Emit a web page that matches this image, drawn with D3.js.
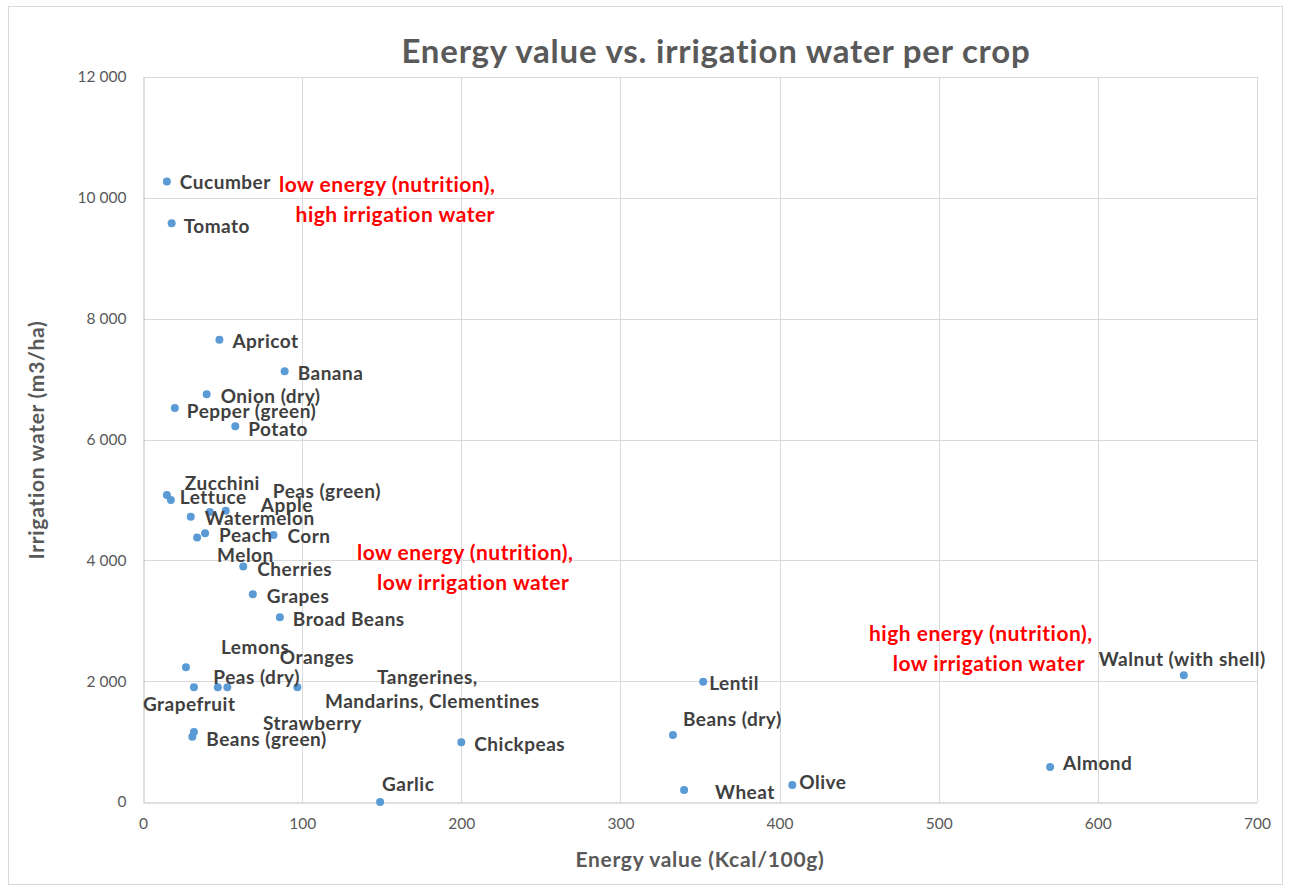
<!DOCTYPE html>
<html>
<head>
<meta charset="utf-8">
<script src="https://cdn.jsdelivr.net/npm/d3@7"></script>
<style>
  body { margin: 0; background: #fff; }
  text { font-family: Lato, "Open Sans", sans-serif; }
</style>
</head>
<body>
<script>
// crops, energy (Kcal/100g), irrigation water (m3/ha)
var crops = ["Cucumber", "Tomato", "Apricot", "Banana", "Onion (dry)", "Pepper (green)", "Potato",
  "Zucchini", "Lettuce", "Watermelon", "Peas (green)", "Apple", "Peach", "Melon", "Corn",
  "Cherries", "Grapes", "Broad Beans", "Lemons", "Grapefruit", "Oranges",
  "Tangerines, Mandarins, Clementines", "Peas (dry)", "Strawberry", "Beans (green)",
  "Garlic", "Chickpeas", "Lentil", "Beans (dry)", "Wheat", "Olive", "Almond", "Walnut (with shell)"];
var energy = [15, 18, 48, 89, 40, 20, 58,
  15, 17.5, 30, 42, 52, 39, 34, 82,
  63, 69, 86, 27, 32, 47,
  53, 97, 32, 31,
  149, 200, 352, 333, 340, 408, 570, 654];
var water = [10270, 9580, 7650, 7130, 6750, 6520, 6220,
  5080, 5000, 4720, 4800, 4820, 4450, 4380, 4420,
  3900, 3440, 3060, 2230, 1900, 1900,
  1900, 1900, 1160, 1080,
  0, 990, 1990, 1110, 200, 280, 580, 2100];

var xTicks = [0, 100, 200, 300, 400, 500, 600, 700];
var yTicks = [0, 2000, 4000, 6000, 8000, 10000, 12000];

var notes = [
  ["low energy (nutrition),", "high irrigation water"],
  ["low energy (nutrition),", "low irrigation water"],
  ["high energy (nutrition),", "low irrigation water"]
];
var noteEnergy = [156, 205, 529];
var noteWater = [10250, 4155, 2815];

// label placement relative to each point (px), like dragged Excel labels
var labelDx = [13, 12, 13, 13, 14, 12, 13,
  18, 9, 14, 63, 35, 14, 20, 14,
  14, 14, 13, 35, -51, 62,
  203, -84, 69, 14,
  2, 13, 6, 10, 31, 7, 13, -85];
var labelDy = [0, 2, 1, 1, 1, 2, 2,
  -13, -3, 1, -22, -6, 1, 17, 1,
  2, 1, 1, -21, 16, -31,
  -11, -11, -9, 2,
  -19, 1, 1, -16, 2, -4, -4, -17];

var W = 1292, H = 886;
var svg = d3.select("body").append("svg").attr("width", W).attr("height", H);

svg.append("rect")
  .attr("x", 8.5).attr("y", 6.5).attr("width", 1274).attr("height", 878)
  .attr("fill", "#fff").attr("stroke", "#d9d9d9").attr("stroke-width", 1);

var x = d3.scaleLinear().domain([0, 700]).range([143, 1257]);
var y = d3.scaleLinear().domain([0, 12000]).range([802, 77]);

var fmt = d3.formatLocale({ decimal: ".", thousands: " ", grouping: [3], currency: ["", ""] }).format(",");

// gridlines
svg.append("g").selectAll("line").data(yTicks.slice(1)).enter().append("line")
  .attr("x1", x(0)).attr("x2", x(700))
  .attr("y1", function (d) { return Math.round(y(d)) + 0.5; })
  .attr("y2", function (d) { return Math.round(y(d)) + 0.5; })
  .attr("stroke", "#d9d9d9");
svg.append("g").selectAll("line").data(xTicks.slice(1)).enter().append("line")
  .attr("y1", y(0)).attr("y2", y(12000))
  .attr("x1", function (d) { return Math.round(x(d)) + 0.5; })
  .attr("x2", function (d) { return Math.round(x(d)) + 0.5; })
  .attr("stroke", "#d9d9d9");

// axes
var xAxis = d3.axisBottom(x).tickValues(xTicks).tickSize(0).tickPadding(15).tickFormat(fmt);
var yAxis = d3.axisLeft(y).tickValues(yTicks).tickSize(0).tickPadding(17).tickFormat(fmt);
var gx = svg.append("g").attr("transform", "translate(0," + (Math.round(y(0)) + 0.5) + ")").call(xAxis);
var gy = svg.append("g").attr("transform", "translate(" + (Math.round(x(0)) + 0.5) + ",0)").call(yAxis);
[gx, gy].forEach(function (g) {
  g.select(".domain").attr("stroke", "#bfbfbf");
  g.selectAll("text").attr("fill", "#595959").style("font-size", "15.5px")
    .style("font-family", "Lato, sans-serif");
});

// points
svg.append("g").selectAll("circle").data(crops).enter().append("circle")
  .attr("cx", function (d, i) { return x(energy[i]); })
  .attr("cy", function (d, i) { return y(water[i]); })
  .attr("r", 4)
  .attr("fill", "#5b9bd5");

// point labels
var lab = svg.append("g").selectAll("text").data(crops).enter().append("text")
  .attr("fill", "#404040")
  .style("font-size", "19px")
  .style("font-weight", "bold")
  .style("letter-spacing", "0.5px")
  .attr("dominant-baseline", "central");
lab.each(function (d, i) {
  var t = d3.select(this);
  var px = x(energy[i]) + labelDx[i], py = y(water[i]) + labelDy[i];
  if (d.indexOf("Tangerines") === 0) {
    t.attr("text-anchor", "middle");
    t.append("tspan").attr("x", px - 3).attr("y", py).text("Tangerines,");
    t.append("tspan").attr("x", px + 2).attr("y", py + 24).text("Mandarins, Clementines");
  } else {
    t.attr("x", px).attr("y", py).text(d);
  }
});

// red annotations
notes.forEach(function (lines, i) {
  var t = svg.append("text")
    .attr("text-anchor", "middle")
    .attr("fill", "#ff0000")
    .style("font-size", "21px")
    .style("font-weight", "bold")
    .style("letter-spacing", "0.5px")
    .attr("dominant-baseline", "central");
  lines.forEach(function (s, j) {
    t.append("tspan")
      .attr("x", x(noteEnergy[i]) + (j === 0 ? -4 : 4))
      .attr("y", y(noteWater[i]) + j * 30)
      .text(s);
  });
});

// title and axis titles
svg.append("text")
  .attr("x", 716).attr("y", 50)
  .attr("text-anchor", "middle").attr("dominant-baseline", "central")
  .attr("fill", "#595959")
  .style("font-size", "33px").style("font-weight", "bold")
  .style("letter-spacing", "0.8px")
  .text("Energy value vs. irrigation water per crop");

svg.append("text")
  .attr("x", 700).attr("y", 858)
  .attr("text-anchor", "middle").attr("dominant-baseline", "central")
  .attr("fill", "#595959")
  .style("font-size", "21px").style("font-weight", "bold")
  .style("letter-spacing", "0.7px")
  .text("Energy value (Kcal/100g)");

svg.append("text")
  .attr("transform", "translate(35,440)rotate(-90)")
  .attr("text-anchor", "middle").attr("dominant-baseline", "central")
  .attr("fill", "#595959")
  .style("font-size", "21px").style("font-weight", "bold")
  .style("letter-spacing", "0.7px")
  .text("Irrigation water (m3/ha)");
</script>
</body>
</html>
